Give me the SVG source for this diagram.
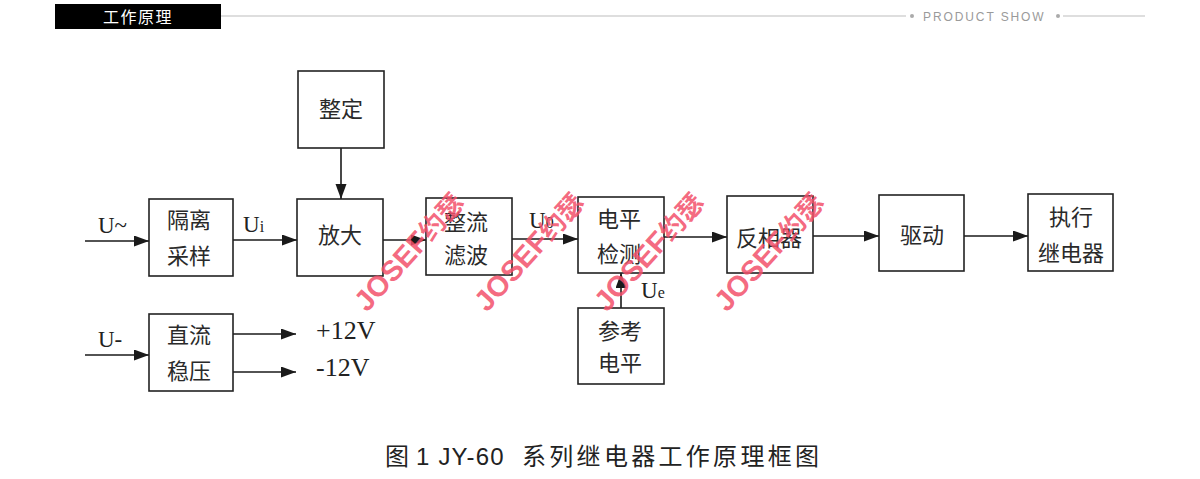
<svg xmlns="http://www.w3.org/2000/svg" width="1200" height="479" viewBox="0 0 1200 479">
<defs>
<marker id="ah" markerUnits="userSpaceOnUse" markerWidth="16" markerHeight="12" refX="15" refY="5.5" orient="auto">
<path d="M0,0 L15,5.5 L0,11 z" fill="#1a1a1a"/>
</marker>
<style>
.box{fill:#fff;stroke:#222;stroke-width:1.6}
.cn{font-family:"Noto Sans CJK SC","Noto Sans",sans-serif;font-size:22px;fill:#2a2a2a;text-anchor:middle}
.lt{font-family:"Liberation Serif","Times New Roman",serif;font-size:23px;fill:#222}
.big{font-size:26px}
.sub{font-size:16px}
.ln{stroke:#1a1a1a;stroke-width:1.6;fill:none;marker-end:url(#ah)}
.wm{font-family:"Liberation Sans","Noto Sans CJK SC",sans-serif;font-weight:bold;font-size:29px;fill:#f2506a;fill-opacity:0.85}
.wmc{font-family:"Noto Sans CJK SC",sans-serif;font-size:26px}
.cap{font-family:"Noto Sans CJK SC",sans-serif;font-size:24px;fill:#222}
.capl{font-family:"Liberation Sans",Arial,sans-serif;font-size:24px;fill:#222;letter-spacing:1.2px}
</style>
</defs>
<rect width="1200" height="479" fill="#fff"/>
<g id="header">
<rect x="55" y="4" width="166" height="25" fill="#000"/>
<text x="138" y="22.5" font-family="Noto Sans CJK SC,sans-serif" font-size="16" fill="#fff" text-anchor="middle" letter-spacing="1.5">工作原理</text>
<line x1="221" y1="16" x2="906" y2="16" stroke="#bdbdbd" stroke-width="1"/>
<circle cx="912" cy="16" r="2" fill="#aaa"/>
<text x="923" y="21" font-family="Liberation Sans,Arial,sans-serif" font-size="12" fill="#9a9a9a" letter-spacing="1.9">PRODUCT SHOW</text>
<circle cx="1058" cy="16" r="2" fill="#aaa"/>
<line x1="1063" y1="16" x2="1145" y2="16" stroke="#bdbdbd" stroke-width="1"/>
</g>
<g id="connectors">
<line class="ln" x1="341" y1="148" x2="341" y2="199"/>
<line class="ln" x1="85" y1="241" x2="149" y2="241"/>
<line class="ln" x1="233" y1="240" x2="297" y2="240"/>
<line class="ln" x1="383" y1="240" x2="426" y2="240"/>
<line class="ln" x1="512" y1="239" x2="578" y2="239"/>
<line class="ln" x1="664" y1="237" x2="727" y2="237"/>
<line class="ln" x1="813" y1="236" x2="879" y2="236"/>
<line class="ln" x1="964" y1="236" x2="1028" y2="236"/>
<line class="ln" x1="621" y1="308" x2="621" y2="273"/>
<line class="ln" x1="85" y1="355" x2="149" y2="355"/>
<line class="ln" x1="233" y1="334" x2="296" y2="334"/>
<line class="ln" x1="233" y1="372" x2="296" y2="372"/>
</g>
<g id="labels">
<text class="lt" x="98" y="233">U~</text>
<text class="lt" x="243" y="232">U<tspan class="sub">i</tspan></text>
<text class="lt" x="529" y="228">U<tspan class="sub">0</tspan></text>
<text class="lt" x="641" y="298">U<tspan class="sub">e</tspan></text>
<text class="lt" x="98" y="347">U-</text>
<text class="lt big" x="316" y="339">+12V</text>
<text class="lt big" x="316" y="376">-12V</text>
</g>
<g id="n-zhengding">
<rect class="box" x="298" y="71" width="86" height="77"/>
<text class="cn" x="341" y="117">整定</text>
</g>
<g id="n-geli">
<rect class="box" x="149" y="199" width="84" height="77"/>
<text class="cn" x="189" y="228">隔离</text>
<text class="cn" x="189" y="264">采样</text>
</g>
<g id="n-fangda">
<rect class="box" x="297" y="199" width="86" height="77"/>
<text class="cn" x="340" y="243">放大</text>
</g>
<g id="n-zhengliu">
<rect class="box" x="426" y="198" width="86" height="77"/>
<text class="cn" x="466" y="230">整流</text>
<text class="cn" x="466" y="263">滤波</text>
</g>
<g id="n-dianping">
<rect class="box" x="578" y="197" width="86" height="76"/>
<text class="cn" x="619" y="227">电平</text>
<text class="cn" x="619" y="262">检测</text>
</g>
<g id="n-cankao">
<rect class="box" x="578" y="308" width="86" height="76"/>
<text class="cn" x="620" y="339">参考</text>
<text class="cn" x="620" y="371">电平</text>
</g>
<g id="n-fanxiang">
<rect class="box" x="727" y="196" width="86" height="77"/>
<text class="cn" x="769" y="246">反相器</text>
</g>
<g id="n-qudong">
<rect class="box" x="879" y="195" width="85" height="76"/>
<text class="cn" x="922" y="243">驱动</text>
</g>
<g id="n-zhixing">
<rect class="box" x="1028" y="194" width="85" height="77"/>
<text class="cn" x="1071" y="225">执行</text>
<text class="cn" x="1071" y="261">继电器</text>
</g>
<g id="n-wenya">
<rect class="box" x="149" y="314" width="84" height="77"/>
<text class="cn" x="189" y="343">直流</text>
<text class="cn" x="189" y="379">稳压</text>
</g>
<g id="watermarks">
<text class="wm" transform="translate(367,313) rotate(-48)">JOSEF<tspan class="wmc">约瑟</tspan></text>
<text class="wm" transform="translate(487,313) rotate(-48)">JOSEF<tspan class="wmc">约瑟</tspan></text>
<text class="wm" transform="translate(607,313) rotate(-48)">JOSEF<tspan class="wmc">约瑟</tspan></text>
<text class="wm" transform="translate(727,313) rotate(-48)">JOSEF<tspan class="wmc">约瑟</tspan></text>
</g>
<g id="caption">
<text class="cap" x="385" y="465">图</text>
<text class="capl" x="416" y="465">1 JY-60</text>
<text class="cap" x="522" y="465" letter-spacing="3.3">系列继电器工作原理框图</text>
</g>
</svg>
